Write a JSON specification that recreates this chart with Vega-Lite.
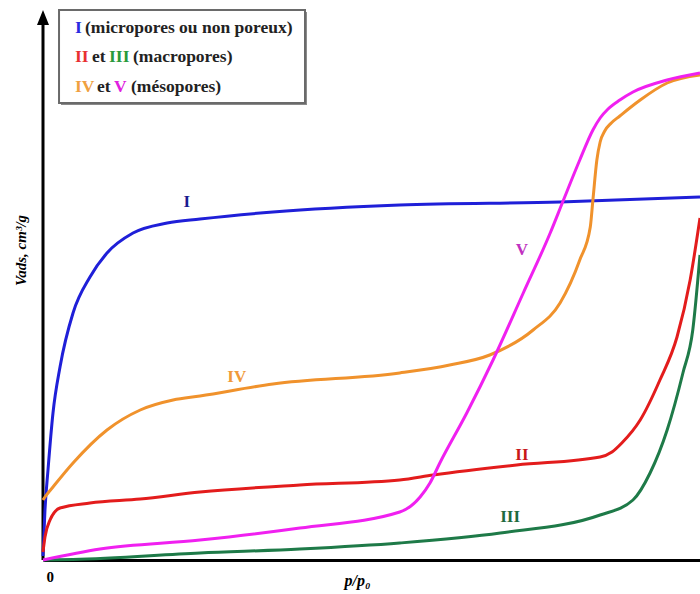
{
  "$schema": "https://vega.github.io/schema/vega-lite/v6.json",
  "width": 657,
  "height": 560,
  "autosize": {"type": "none"},
  "padding": {"left": 43, "top": 0, "right": 0, "bottom": 34},
  "background": "white",
  "config": {"view": {"stroke": null}},
  "datasets": {
    "curves": [
      {"series": "I", "p": 0, "v": 4}, {"series": "I", "p": 0.003, "v": 50}, {"series": "I", "p": 0.0076, "v": 90}, {"series": "I", "p": 0.0152, "v": 147}, {"series": "I", "p": 0.0259, "v": 193}, {"series": "I", "p": 0.0457, "v": 247}, {"series": "I", "p": 0.0715, "v": 283}, {"series": "I", "p": 0.0974, "v": 307}, {"series": "I", "p": 0.137, "v": 327}, {"series": "I", "p": 0.189, "v": 337}, {"series": "I", "p": 0.239, "v": 341}, {"series": "I", "p": 0.35, "v": 348}, {"series": "I", "p": 0.543, "v": 355}, {"series": "I", "p": 0.787, "v": 358}, {"series": "I", "p": 1.0, "v": 363},
      {"series": "II", "p": 0, "v": 8}, {"series": "II", "p": 0.003, "v": 23}, {"series": "II", "p": 0.0107, "v": 40}, {"series": "II", "p": 0.0259, "v": 52}, {"series": "II", "p": 0.0715, "v": 57}, {"series": "II", "p": 0.148, "v": 61}, {"series": "II", "p": 0.239, "v": 68}, {"series": "II", "p": 0.391, "v": 75}, {"series": "II", "p": 0.543, "v": 80}, {"series": "II", "p": 0.594, "v": 85}, {"series": "II", "p": 0.721, "v": 95}, {"series": "II", "p": 0.848, "v": 103}, {"series": "II", "p": 0.866, "v": 108}, {"series": "II", "p": 0.881, "v": 117}, {"series": "II", "p": 0.909, "v": 140}, {"series": "II", "p": 0.939, "v": 180}, {"series": "II", "p": 0.965, "v": 223}, {"series": "II", "p": 0.985, "v": 280}, {"series": "II", "p": 1.0, "v": 342},
      {"series": "III", "p": 0, "v": 0}, {"series": "III", "p": 0.0457, "v": 0.5}, {"series": "III", "p": 0.239, "v": 7}, {"series": "III", "p": 0.391, "v": 11}, {"series": "III", "p": 0.543, "v": 17}, {"series": "III", "p": 0.696, "v": 27}, {"series": "III", "p": 0.848, "v": 45}, {"series": "III", "p": 0.898, "v": 60}, {"series": "III", "p": 0.924, "v": 87}, {"series": "III", "p": 0.95, "v": 130}, {"series": "III", "p": 0.974, "v": 187}, {"series": "III", "p": 0.989, "v": 230}, {"series": "III", "p": 1.0, "v": 305},
      {"series": "IV", "p": 0, "v": 60}, {"series": "IV", "p": 0.003, "v": 63}, {"series": "IV", "p": 0.0152, "v": 73}, {"series": "IV", "p": 0.0457, "v": 97}, {"series": "IV", "p": 0.0974, "v": 130}, {"series": "IV", "p": 0.148, "v": 150}, {"series": "IV", "p": 0.198, "v": 160}, {"series": "IV", "p": 0.239, "v": 164}, {"series": "IV", "p": 0.35, "v": 176}, {"series": "IV", "p": 0.543, "v": 187}, {"series": "IV", "p": 0.619, "v": 195}, {"series": "IV", "p": 0.68, "v": 205}, {"series": "IV", "p": 0.746, "v": 230}, {"series": "IV", "p": 0.787, "v": 257}, {"series": "IV", "p": 0.817, "v": 300}, {"series": "IV", "p": 0.833, "v": 333}, {"series": "IV", "p": 0.837, "v": 360}, {"series": "IV", "p": 0.843, "v": 400}, {"series": "IV", "p": 0.848, "v": 418}, {"series": "IV", "p": 0.855, "v": 429}, {"series": "IV", "p": 0.865, "v": 437}, {"series": "IV", "p": 0.878, "v": 444}, {"series": "IV", "p": 0.893, "v": 452}, {"series": "IV", "p": 0.909, "v": 460}, {"series": "IV", "p": 0.95, "v": 477}, {"series": "IV", "p": 1.0, "v": 485},
      {"series": "V", "p": 0, "v": 0}, {"series": "V", "p": 0.0868, "v": 11}, {"series": "V", "p": 0.239, "v": 20}, {"series": "V", "p": 0.391, "v": 32}, {"series": "V", "p": 0.543, "v": 48}, {"series": "V", "p": 0.574, "v": 63}, {"series": "V", "p": 0.589, "v": 77}, {"series": "V", "p": 0.604, "v": 97}, {"series": "V", "p": 0.645, "v": 147}, {"series": "V", "p": 0.685, "v": 200}, {"series": "V", "p": 0.731, "v": 267}, {"series": "V", "p": 0.772, "v": 327}, {"series": "V", "p": 0.791, "v": 358}, {"series": "V", "p": 0.817, "v": 400}, {"series": "V", "p": 0.837, "v": 430}, {"series": "V", "p": 0.848, "v": 442}, {"series": "V", "p": 0.86, "v": 451}, {"series": "V", "p": 0.878, "v": 460}, {"series": "V", "p": 0.898, "v": 468}, {"series": "V", "p": 0.95, "v": 480}, {"series": "V", "p": 1.0, "v": 487}
    ],
    "curveLabels": [
      {"series": "I", "p": 0.219, "v": 358},
      {"series": "II", "p": 0.729, "v": 105},
      {"series": "III", "p": 0.711, "v": 43},
      {"series": "IV", "p": 0.295, "v": 183},
      {"series": "V", "p": 0.729, "v": 310}
    ],
    "legendText": [
      {"seg": "I", "key": "I", "p": 0.0487, "v": 532},
      {"seg": "(micropores ou non poreux)", "key": "black", "p": 0.0639, "v": 532},
      {"seg": "II", "key": "II", "p": 0.0487, "v": 503},
      {"seg": "et", "key": "black", "p": 0.0746, "v": 503},
      {"seg": "III", "key": "III", "p": 0.1005, "v": 503},
      {"seg": "(macropores)", "key": "black", "p": 0.137, "v": 503},
      {"seg": "IV", "key": "IV", "p": 0.0487, "v": 473},
      {"seg": "et", "key": "black", "p": 0.0822, "v": 473},
      {"seg": "V", "key": "V", "p": 0.1081, "v": 473},
      {"seg": "(mésopores)", "key": "black", "p": 0.1339, "v": 473}
    ]
  },
  "resolve": {"scale": {"color": "independent"}},
  "layer": [
    {
      "data": {"values": [{"x1": 0, "x2": 1, "y1": 0, "y2": 535, "tip": 542.5}]},
      "mark": {"type": "rule", "color": "black", "strokeWidth": 3},
      "encoding": {
        "x": {"field": "x1", "type": "quantitative", "scale": {"domain": [0, 1], "nice": false, "zero": false},
              "axis": {"values": [0], "labelExpr": "'0'", "labelFont": "Liberation Serif", "labelFontWeight": "bold", "labelFontSize": 15, "labelColor": "black", "labelOffset": 3, "labelPadding": 9, "ticks": false, "tickSize": 0, "grid": false, "domainColor": "black", "domainWidth": 3,
                       "title": "p/p₀", "titleFont": "Liberation Serif", "titleFontStyle": "italic", "titleFontWeight": "bold", "titleFontSize": 16, "titleColor": "black", "titleX": 314, "titleY": 20, "titleBaseline": "middle", "titleAnchor": null}},
        "y": {"field": "y1", "type": "quantitative", "scale": {"domain": [0, 560], "nice": false, "zero": false},
              "axis": {"domain": false, "ticks": false, "labels": false, "grid": false,
                       "title": "Vads, cm³/g", "titleFont": "Liberation Serif", "titleFontStyle": "italic", "titleFontWeight": "bold", "titleFontSize": 15, "titleColor": "black", "titleX": -23, "titleY": 250, "titleAngle": 270, "titleBaseline": "middle", "titleAlign": "center"}},
        "y2": {"field": "y2"}
      }
    },
    {
      "data": {"values": [{"x1": 0, "tip": 542.5}]},
      "mark": {"type": "point", "shape": "M0,-1L0.8,1L-0.8,1Z", "filled": true, "color": "black", "opacity": 1, "size": 225},
      "encoding": {
        "x": {"field": "x1", "type": "quantitative"},
        "y": {"field": "tip", "type": "quantitative"}
      }
    },
    {
      "data": {"name": "curves"},
      "mark": {"type": "line", "strokeWidth": 3, "interpolate": "monotone"},
      "encoding": {
        "x": {"field": "p", "type": "quantitative"},
        "y": {"field": "v", "type": "quantitative"},
        "color": {"field": "series", "type": "nominal", "legend": null,
                  "scale": {"domain": ["I", "II", "III", "IV", "V"], "range": ["#1f1fd8", "#e31c1c", "#1e7a48", "#f0922c", "#f020f0"]}}
      }
    },
    {
      "data": {"name": "curveLabels"},
      "mark": {"type": "text", "font": "Liberation Serif", "fontWeight": "bold", "fontSize": 17, "baseline": "middle", "align": "center"},
      "encoding": {
        "x": {"field": "p", "type": "quantitative"},
        "y": {"field": "v", "type": "quantitative"},
        "text": {"field": "series"},
        "color": {"field": "series", "type": "nominal", "legend": null,
                  "scale": {"domain": ["I", "II", "III", "IV", "V"], "range": ["#1a1a90", "#c81818", "#1f6a40", "#f09a3a", "#c030c0"]}}
      }
    },
    {
      "data": {"values": [{"a": 0.0274, "b": 0.4018, "c": 455, "d": 548}]},
      "mark": {"type": "rect", "color": "#8a8a8a"},
      "encoding": {
        "x": {"field": "a", "type": "quantitative"}, "x2": {"field": "b"},
        "y": {"field": "c", "type": "quantitative"}, "y2": {"field": "d"}
      }
    },
    {
      "data": {"values": [{"a": 0.0244, "b": 0.3988, "c": 457, "d": 550}]},
      "mark": {"type": "rect", "fill": "white", "stroke": "#6a6a6a", "strokeWidth": 2},
      "encoding": {
        "x": {"field": "a", "type": "quantitative"}, "x2": {"field": "b"},
        "y": {"field": "c", "type": "quantitative"}, "y2": {"field": "d"}
      }
    },
    {
      "data": {"name": "legendText"},
      "mark": {"type": "text", "font": "Liberation Serif", "fontWeight": "bold", "fontSize": 17.5, "baseline": "middle", "align": "left"},
      "encoding": {
        "x": {"field": "p", "type": "quantitative"},
        "y": {"field": "v", "type": "quantitative"},
        "text": {"field": "seg"},
        "color": {"field": "key", "type": "nominal", "legend": null,
                  "scale": {"domain": ["I", "II", "III", "IV", "V", "black"], "range": ["#2a2ae0", "#e83030", "#2a9a3a", "#f0a040", "#e020e0", "#222222"]}}
      }
    }
  ]
}
